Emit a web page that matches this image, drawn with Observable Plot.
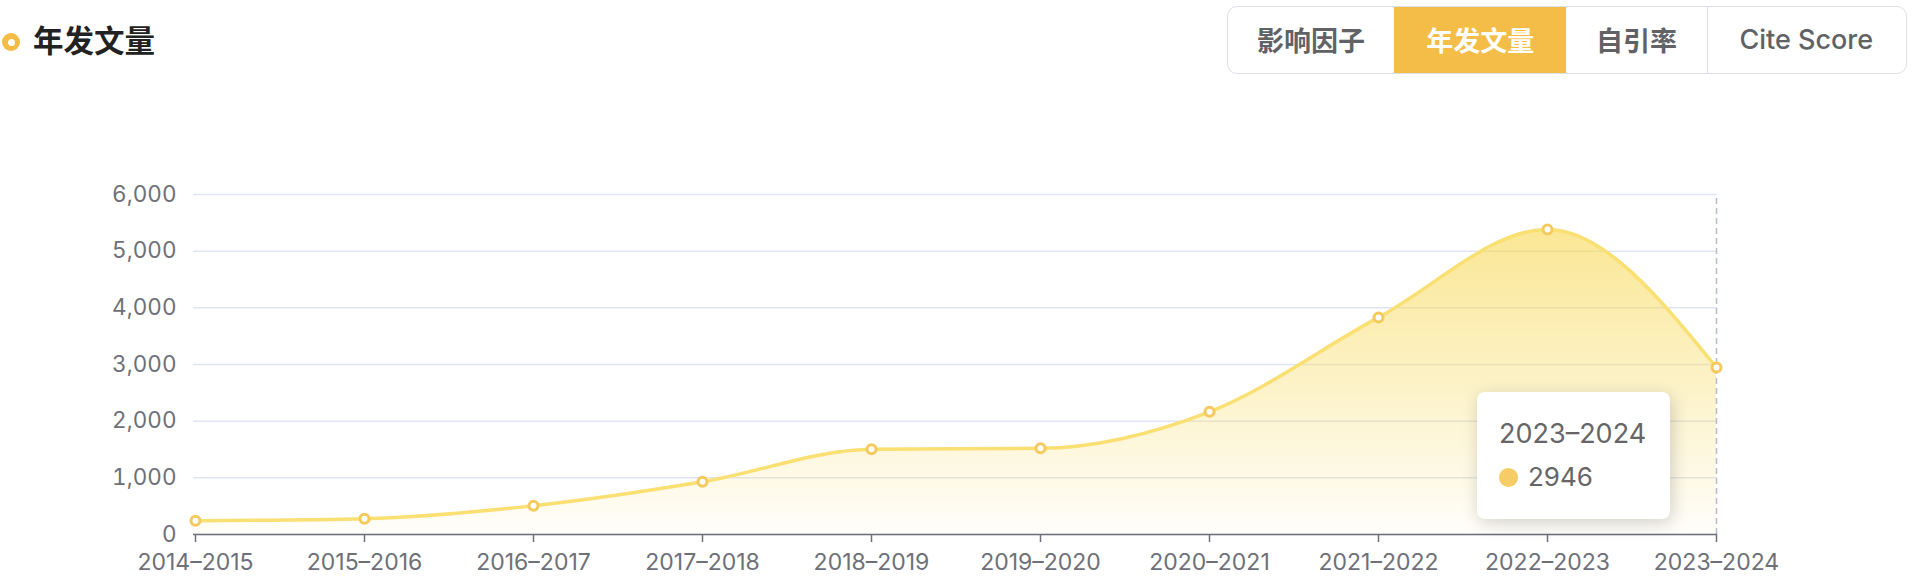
<!DOCTYPE html>
<html><head><meta charset="utf-8">
<script src="https://cdn.jsdelivr.net/npm/d3@7"></script>
<script src="https://cdn.jsdelivr.net/npm/@observablehq/plot@0.6"></script>
<style>
html,body{margin:0;padding:0;background:#fff;width:1914px;height:578px;overflow:hidden;font-family:Inter,"Noto Sans CJK SC",sans-serif;}
#header{position:relative;height:80px;width:1914px;}
#header .dot{position:absolute;left:2px;top:33px;width:18px;height:18px;border-radius:50%;background:#f5bc45;}
#header .dot::after{content:"";position:absolute;left:5.5px;top:5.5px;width:7px;height:7px;border-radius:50%;background:#fff;}
#header .title{position:absolute;left:33px;top:23px;line-height:32px;font-size:30.5px;font-weight:700;color:#222;font-family:"Noto Sans CJK SC",sans-serif;}
#tabs{position:absolute;left:1226.7px;top:6px;width:680px;height:67.5px;box-sizing:border-box;border:1.5px solid #dcdfe6;border-radius:10px;display:flex;overflow:hidden;}
#tabs .tab{display:flex;align-items:center;justify-content:center;font-size:27px;color:#606266;font-weight:500;font-family:Inter,"Noto Sans CJK SC",sans-serif;box-sizing:border-box;}
#tabs .tab.cjk{font-weight:600;}
#tabs .tab.active{background:#f4bd47;color:#fff;margin:-1.5px 0;}
#tabs .tab.sep{border-left:1.5px solid #dcdfe6;}
#chart{position:relative;width:1914px;height:498px;}
#tip{position:absolute;background:#fff;border-radius:8px;box-shadow:2px 4px 18px rgba(0,0,0,0.18);box-sizing:border-box;color:#666;font-family:Inter,sans-serif;}
#tip .t{position:absolute;left:22px;font-size:27px;line-height:30px;}
#tip .v{position:absolute;left:22px;font-size:26px;line-height:30px;display:flex;align-items:center;}
#tip .v i{display:inline-block;width:19px;height:19px;border-radius:50%;background:#f6cd64;margin-right:10px;}
</style></head><body>
<div id="header"><div class="dot"></div><div class="title"></div><div id="tabs"></div></div>
<div id="chart"></div>
<script>
// ---- data ----
const chartTitle = "年发文量";
const tabs = ["影响因子", "年发文量", "自引率", "Cite Score"];
const activeTab = "年发文量";
const years = ["2014–2015","2015–2016","2016–2017","2017–2018","2018–2019","2019–2020","2020–2021","2021–2022","2022–2023","2023–2024"];
const counts = [243, 279, 508, 931, 1503, 1520, 2166, 3831, 5383, 2946];
const yTicks = [0, 1000, 2000, 3000, 4000, 5000, 6000];
const tooltipYear = "2023–2024";

// ---- header ----
document.querySelector("#header .title").textContent = chartTitle;
const tabWidths = [166.8, 171.7, 140.8, 197.7];
const tabsEl = document.getElementById("tabs");
tabs.forEach((t, i) => {
  const d = document.createElement("div");
  d.className = "tab" + (t === activeTab ? " active" : "") + (i === 3 ? " sep" : " cjk");
  d.style.width = tabWidths[i] + "px";
  d.textContent = t;
  tabsEl.appendChild(d);
});

// ---- chart ----
const data = years.map((year, i) => ({year, value: counts[i]}));
const chart = Plot.plot({
  width: 1914, height: 498,
  marginLeft: 193, marginRight: 197, marginTop: 114, marginBottom: 44,
  style: {fontFamily: "Inter, 'Noto Sans CJK SC', sans-serif", fontSize: "22px", background: "#fff", overflow: "visible"},
  x: {type: "point", domain: years, padding: 0, label: null},
  y: {domain: [0, 6000], label: null},
  marks: [
    Plot.gridY(yTicks, {stroke: "#e0e6f1", strokeOpacity: 1, strokeWidth: 1.5}),
    Plot.axisY(yTicks, {tickSize: 0, tickPadding: 17, tickFormat: d3.format(","), fontSize: 22.5, color: "#6e7079", label: null}),
    Plot.areaY(data, {x: "year", y: "value", curve: "monotone-x", fill: "url(#areaGrad)"}),
    Plot.lineY(data, {x: "year", y: "value", curve: "monotone-x", stroke: "#fadf73", strokeWidth: 3.5}),
    Plot.ruleX([tooltipYear], {y1: 0, y2: 6000, stroke: "#b8bbd0", strokeWidth: 1.5, strokeDasharray: "6,4"}),
    Plot.ruleY([0], {stroke: "#6e7079", strokeWidth: 1.5}),
    Plot.axisX({tickSize: 8, tickPadding: 11, fontSize: 23, color: "#6e7079", strokeWidth: 1.5, label: null}),
    Plot.dot(data, {x: "year", y: "value", r: 4.5, stroke: "#f6c95c", strokeWidth: 3, fill: "#fff"})
  ]
});
const defs = d3.select(chart).insert("defs", ":first-child");
const g = defs.append("linearGradient").attr("id", "areaGrad").attr("x1", 0).attr("y1", 0).attr("x2", 0).attr("y2", 1);
g.append("stop").attr("offset", "0%").attr("stop-color", "rgb(247,213,71)").attr("stop-opacity", 0.58);
g.append("stop").attr("offset", "100%").attr("stop-color", "rgb(247,213,71)").attr("stop-opacity", 0.03);
const host = document.getElementById("chart");
host.appendChild(chart);

// ---- tooltip ----
const tipValue = counts[years.indexOf(tooltipYear)];
const px = chart.scale("x").apply(tooltipYear);
const py = chart.scale("y").apply(tipValue);
const tip = document.createElement("div");
tip.id = "tip";
tip.style.width = "193px"; tip.style.height = "127px";
tip.style.left = (px - 46 - 193) + "px";
tip.style.top = (py + 25) + "px";
tip.innerHTML = `<div class="t" style="top:27px"></div><div class="v" style="top:70px"><i></i><span></span></div>`;
tip.querySelector(".t").textContent = tooltipYear;
tip.querySelector(".v span").textContent = String(tipValue);
host.appendChild(tip);
</script>
</body></html>
